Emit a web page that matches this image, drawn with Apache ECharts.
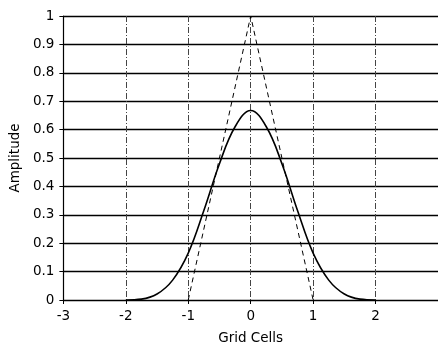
<!DOCTYPE html>
<html><head><meta charset="utf-8">
<script src="https://cdn.jsdelivr.net/npm/echarts@6/dist/echarts.min.js"></script>
<style>html,body{margin:0;padding:0;background:#fff}#c{width:438px;height:350px}</style>
</head><body><div id="c"></div>
<script>
// Data
const splineX = [-2, -1.75, -1.5, -1.25, -1, -0.75, -0.5, -0.25, 0, 0.25, 0.5, 0.75, 1, 1.25, 1.5, 1.75, 2];
const splineY = [0, 0.003, 0.021, 0.07, 0.165, 0.315, 0.48, 0.61, 0.667, 0.61, 0.48, 0.315, 0.165, 0.07, 0.021, 0.003, 0];
const triX = [-1, 0, 1];
const triY = [0, 1, 0];
const xTicks = [-3, -2, -1, 0, 1, 2, 3];
const yTicks = [0, 0.1, 0.2, 0.3, 0.4, 0.5, 0.6, 0.7, 0.8, 0.9, 1];

const font = '"DejaVu Sans", sans-serif';
const chart = echarts.init(document.getElementById('c'));
chart.setOption({
  animation: false,
  grid: {left: 62, top: 16, right: 0, bottom: 46},
  xAxis: {
    type: 'value', min: xTicks[0], max: xTicks[xTicks.length - 1], interval: 1,
    name: 'Grid Cells', nameLocation: 'middle', nameGap: 31,
    nameTextStyle: {color: '#000', fontFamily: font, fontSize: 13.5},
    axisLine: {show: true, onZero: false, lineStyle: {color: '#000', width: 1.2}},
    axisTick: {show: true, length: 4, lineStyle: {color: '#000'}},
    axisLabel: {color: '#000', fontFamily: font, fontSize: 13.5, margin: 9, showMaxLabel: false},
    splitLine: {show: true, lineStyle: {color: '#444', width: 1, type: [6, 2, 1, 2]}}
  },
  yAxis: {
    type: 'value', min: yTicks[0], max: yTicks[yTicks.length - 1], interval: 0.1,
    name: 'Amplitude', nameLocation: 'middle', nameGap: 40, nameRotate: 90,
    nameTextStyle: {color: '#000', fontFamily: font, fontSize: 13.5},
    axisLine: {show: true, onZero: false, lineStyle: {color: '#000', width: 1.2}},
    axisTick: {show: true, length: 4, lineStyle: {color: '#000'}},
    axisLabel: {color: '#000', fontFamily: font, fontSize: 13.5, margin: 9,
      formatter: v => String(Math.round(v * 10) / 10)},
    splitLine: {show: true, lineStyle: {color: '#000', width: 1.3}}
  },
  series: [
    {type: 'line', data: triX.map((x, i) => [x, triY[i]]), symbol: 'none',
     lineStyle: {color: '#000', width: 1, type: [5, 4]}},
    {type: 'line', data: splineX.map((x, i) => [x, splineY[i]]), symbol: 'none', smooth: 0.4,
     lineStyle: {color: '#000', width: 1.6}}
  ]
});
</script></body></html>
